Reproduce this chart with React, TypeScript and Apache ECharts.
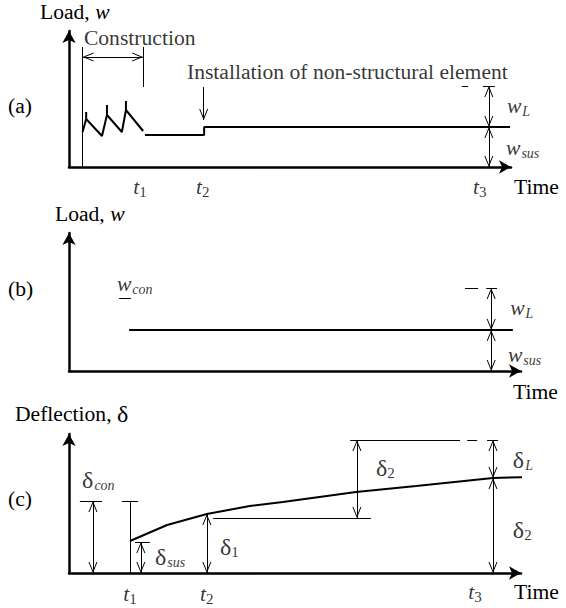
import React, { useEffect, useRef } from "react";
import * as echarts from "echarts";

type P = [number, number];

// ---------------- Panel (a): load history ----------------
const aConstructionLoad: P[] = [
  [3.0, 3.5], [3.8, 4.8], [3.8, 5.5], [3.8, 4.8], [7.3, 3.1], [8.4, 5.2], [8.4, 6.2],
  [8.4, 5.2], [11.7, 3.5], [12.6, 5.7], [12.6, 6.6], [12.6, 5.7], [16.4, 3.6],
];
const aServiceLoad: P[] = [[16.8, 3.2], [29.9, 3.2], [29.9, 4.0], [97.6, 4.0]];
const aConstructionSpan = [3.0, 16.4];
const aConstructionLevels = [8.0, 11.0, 12.0]; // right tick bottom, arrow, top
const aInstallArrow = [29.8, 8.0, 4.7]; // x, from, to
const aDimX = 92.9;
const aDimLevels = [0, 4.0, 8.1];
const aDash = [86.9, 88.3];
const aTick = [91.6, 94.2];
const aTimeX = [15.7, 29.6, 90.9];
const aTimeY = -2.0;
const aLabelText = [
  "{n|Construction}",
  "{n|Installation of non-structural element}",
  "{i|w}{si|L}",
  "{i|w}{si|sus}",
];
const aLabelX = [3.3, 26.1, 96.9, 96.7];
const aLabelY = [12.9, 9.5, 6.1, 1.9];

// ---------------- Panel (b): equivalent load ----------------
const bServiceLoad: P[] = [[13.3, 4.1], [98.2, 4.1]];
const bConDash = [11.1, 13.7, 7.3]; // x1, x2, y
const bDimX = 93.4;
const bDimLevels = [0, 4.1, 8.3];
const bDash = [87.6, 90.5];
const bTick = [92.3, 94.7];
const bLabelText = ["{i|w}{si|con}", "{i|w}{si|L}", "{i|w}{si|sus}"];
const bLabelX = [10.6, 97.6, 97.1];
const bLabelY = [8.7, 6.3, 1.6];

// ---------------- Panel (c): deflection ----------------
const cDeflection: P[] = [
  [13.5, 3.2], [21.7, 4.8], [30.5, 5.9], [40.0, 6.7], [47.3, 7.1], [63.5, 8.1],
  [76.8, 8.7], [93.8, 9.5], [102.2, 9.6],
];
const cConX = [2.4, 7.3, 5.3]; // tick x1, x2, dimension x
const cConLevel = 7.2;
const cT1Line = [13.5, 11.7, 15.3]; // x, tick x1, tick x2
const cSus = [14.6, 17.9, 15.9, 3.1]; // tick x1, x2, dim x, level
const cD1 = [30.5, 5.9]; // dim x, level
const cMidLine = [31.9, 66.8, 5.5]; // x1, x2, y
const cUpper = [63.7, 62.2, 86.5, 13.3]; // dim x, top line x1, x2, level
const cDash = [88.1, 90.3];
const cTick = [92.5, 94.9];
const cRightDimX = 93.8;
const cRightLevels = [0, 9.5, 13.3];
const cTimeX = [13.5, 30.5, 89.8];
const cTimeY = [-2.1, -2.1, -1.9];
const cLabelText = ["{g|δ}{si|con}", "{g|δ}{si|sus}", "{g|δ}{sd|1}", "{g|δ}{sd|2}", "{g|δ}{si|L}", "{g|δ}{sd|2}"];
const cLabelX = [2.9, 19.0, 33.4, 67.9, 98.2, 98.2];
const cLabelY = [9.3, 1.6, 2.6, 10.5, 11.3, 4.3];

const timeSubs = ["1", "2", "3"];

const SERIF = "'Liberation Serif', 'Times New Roman', serif";
const CHEV = "path://M0,0L5,10L3.9,10L0,2.3L-3.9,10L-5,10ZM-0.05,-10L0.05,-10L0,-9.95Z";

const seg = (a: P, b: P, s1 = "none", s2 = "none") => [
  { coord: a, symbol: s1 },
  { coord: b, symbol: s2 },
];
const dim = (x: number, y1: number, y2: number) => seg([x, y1], [x, y2], CHEV, CHEV);
const hl = (x1: number, x2: number, y: number) => seg([x1, y], [x2, y]);

const rich = {
  n: { fontFamily: SERIF, fontSize: 21.6, color: "#000" },
  i: { fontFamily: SERIF, fontSize: 21.6, fontStyle: "italic", color: "#000" },
  g: { fontFamily: SERIF, fontSize: 24, color: "#000" },
  si: { fontFamily: SERIF, fontSize: 14, fontStyle: "italic", color: "#000", padding: [11, 0, 0, 1] },
  sd: { fontFamily: SERIF, fontSize: 15, color: "#000", padding: [9, 0, 0, 0] },
};

const markLineBase = {
  silent: true,
  animation: false,
  symbol: ["none", "none"],
  symbolSize: [9, 22],
  label: { show: false },
  emphasis: { disabled: true },
  lineStyle: { color: "#000", width: 1, type: "solid" },
};

const labelSeries = (idx: number, texts: string[], xs: number[], ys: number[] | number, align: string) => ({
  type: "scatter",
  xAxisIndex: idx,
  yAxisIndex: idx,
  symbolSize: 0,
  clip: false,
  silent: true,
  data: texts.map((t, k) => ({
    value: [xs[k], Array.isArray(ys) ? ys[k] : ys],
    label: { formatter: t },
  })),
  label: { show: true, position: "inside", align, verticalAlign: "middle", rich },
});

const axisCommon = (idx: number, max: number) => ({
  gridIndex: idx,
  type: "value",
  min: 0,
  max,
  axisLine: { show: true, onZero: false, lineStyle: { color: "#000", width: 2.5 }, symbol: ["none", "arrow"], symbolSize: [10, 12] },
  axisTick: { show: false },
  axisLabel: { show: false },
  splitLine: { show: false },
});

const textEl = (left: number, top: number, text: string) => ({
  type: "text",
  left,
  top,
  style: { text, fontFamily: SERIF, fontSize: 21.6, fill: "#000", rich },
});

export default function App() {
  const ref = useRef<HTMLDivElement>(null);
  useEffect(() => {
    if (!ref.current) return;
    const chart = echarts.init(ref.current, undefined, { renderer: "svg" });

    const aMarks = [
      seg([aConstructionSpan[0], 0], [aConstructionSpan[0], aConstructionLevels[2]]),
      seg([aConstructionSpan[1], aConstructionLevels[0]], [aConstructionSpan[1], aConstructionLevels[2]]),
      seg([aConstructionSpan[0], aConstructionLevels[1]], [aConstructionSpan[1], aConstructionLevels[1]], CHEV, CHEV),
      seg([aInstallArrow[0], aInstallArrow[1]], [aInstallArrow[0], aInstallArrow[2]], "none", CHEV),
      hl(aDash[0], aDash[1], aDimLevels[2]),
      hl(aTick[0], aTick[1], aDimLevels[2]),
      dim(aDimX, aDimLevels[0], aDimLevels[1]),
      dim(aDimX, aDimLevels[1], aDimLevels[2]),
    ];
    const bMarks = [
      hl(bConDash[0], bConDash[1], bConDash[2]),
      hl(bDash[0], bDash[1], bDimLevels[2]),
      hl(bTick[0], bTick[1], bDimLevels[2]),
      dim(bDimX, bDimLevels[0], bDimLevels[1]),
      dim(bDimX, bDimLevels[1], bDimLevels[2]),
    ];
    const cMarks = [
      hl(cConX[0], cConX[1], cConLevel),
      dim(cConX[2], 0, cConLevel),
      seg([cT1Line[0], 0], [cT1Line[0], cConLevel]),
      hl(cT1Line[1], cT1Line[2], cConLevel),
      hl(cSus[0], cSus[1], cSus[3]),
      dim(cSus[2], 0, cSus[3]),
      dim(cD1[0], 0, cD1[1]),
      hl(cMidLine[0], cMidLine[1], cMidLine[2]),
      dim(cUpper[0], cMidLine[2], cUpper[3]),
      hl(cUpper[1], cUpper[2], cUpper[3]),
      hl(cDash[0], cDash[1], cUpper[3]),
      hl(cTick[0], cTick[1], cUpper[3]),
      dim(cRightDimX, cRightLevels[0], cRightLevels[1]),
      dim(cRightDimX, cRightLevels[1], cRightLevels[2]),
    ];

    const lineSeries = (idx: number, data: P[], marks: any[] | null, width = 2) => ({
      type: "line",
      xAxisIndex: idx,
      yAxisIndex: idx,
      data,
      showSymbol: false,
      symbol: "none",
      clip: false,
      silent: true,
      lineStyle: { color: "#000", width },
      ...(marks ? { markLine: { ...markLineBase, data: marks } } : {}),
    });

    chart.setOption({
      animation: false,
      backgroundColor: "#fff",
      grid: [
        { left: 69, top: 31, width: 442, height: 136 },
        { left: 69, top: 233, width: 452, height: 138 },
        { left: 69, top: 434, width: 452, height: 139 },
      ],
      xAxis: [axisCommon(0, 97.8), axisCommon(1, 100), axisCommon(2, 100)],
      yAxis: [axisCommon(0, 13.6), axisCommon(1, 13.8), axisCommon(2, 13.9)],
      series: [
        lineSeries(0, aConstructionLoad, null, 2),
        lineSeries(0, aServiceLoad, aMarks, 2),
        labelSeries(0, aLabelText, aLabelX, aLabelY, "left"),
        labelSeries(0, timeSubs.map((s) => `{i|t}{sd|${s}}`), aTimeX, aTimeY, "center"),
        lineSeries(1, bServiceLoad, bMarks, 2),
        labelSeries(1, bLabelText, bLabelX, bLabelY, "left"),
        lineSeries(2, cDeflection, cMarks, 2),
        labelSeries(2, cLabelText, cLabelX, cLabelY, "left"),
        labelSeries(2, timeSubs.map((s) => `{i|t}{sd|${s}}`), cTimeX, cTimeY, "center"),
      ],
      graphic: [
        textEl(8, 95, "(a)"),
        textEl(8, 278, "(b)"),
        textEl(8, 488, "(c)"),
        textEl(40, 1, "Load, {i|w}"),
        textEl(55, 203, "Load, {i|w}"),
        textEl(15, 402, "Deflection, {g|δ}"),
        textEl(514, 176, "Time"),
        textEl(513, 381, "Time"),
        textEl(514, 581, "Time"),
      ],
    });
    return () => chart.dispose();
  }, []);
  return <div ref={ref} style={{ width: 566, height: 608, position: "absolute", left: 0, top: 0 }} />;
}
